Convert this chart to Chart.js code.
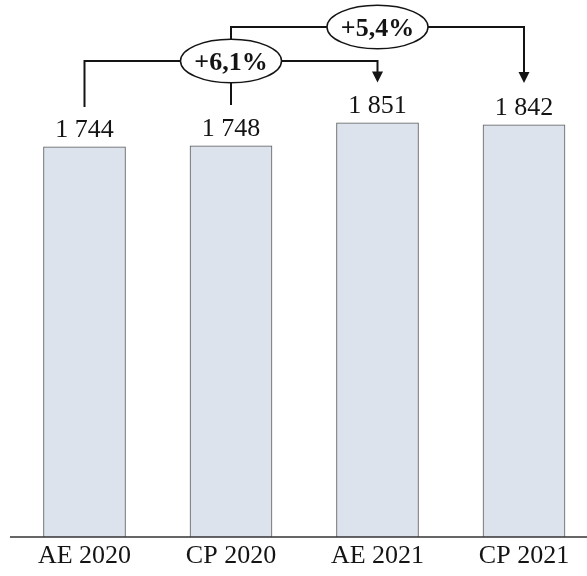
<!DOCTYPE html>
<html>
<head>
<meta charset="utf-8">
<script src="https://cdn.jsdelivr.net/npm/chart.js@4/dist/chart.umd.min.js"></script>
<style>
  html, body { margin: 0; padding: 0; background: #ffffff; }
  #wrap { width: 587px; height: 576px; }
</style>
</head>
<body>
<div id="wrap"><canvas id="c" width="587" height="576"></canvas></div>
<script>
// Categories and values
const categories = ['AE 2020', 'CP 2020', 'AE 2021', 'CP 2021'];
const values = [1744, 1748, 1851, 1842];
// Growth brackets: [from index, to index], lower bracket first
const comparisons = [[0, 2], [1, 3]];
const yMax = 2400;

const SERIF = '"Liberation Serif", "DejaVu Serif", serif';
const INK = '#141414';

function fmtThousands(v) {
  return String(v).replace(/\B(?=(\d{3})+(?!\d))/g, ' ');
}
function fmtGrowth(a, b) {
  const pct = (b / a - 1) * 100;
  return (pct >= 0 ? '+' : '') + pct.toFixed(1).replace('.', ',') + '%';
}

// Draws the baseline, value labels and the growth brackets
const overlay = {
  id: 'overlay',
  afterDatasetsDraw(chart) {
    const ctx = chart.ctx;
    const meta = chart.getDatasetMeta(0);
    const yBase = chart.scales.y.getPixelForValue(0);
    ctx.save();

    // baseline
    ctx.strokeStyle = '#333333';
    ctx.lineWidth = 1.6;
    ctx.beginPath();
    ctx.moveTo(10, yBase);
    ctx.lineTo(chart.width, yBase);
    ctx.stroke();

    // value labels
    ctx.fillStyle = INK;
    ctx.font = '26px ' + SERIF;
    ctx.textAlign = 'center';
    ctx.textBaseline = 'alphabetic';
    meta.data.forEach((bar, i) => {
      ctx.fillText(fmtThousands(values[i]), bar.x, bar.y - 9.5);
    });

    // brackets: level of horizontal run, start of left stem, arrow tip
    const levels = [61, 27];
    const stemStart = [107, 105];
    const arrowTip = [82.5, 83];
    const ellipses = [];
    comparisons.forEach(([a, b], k) => {
      const x0 = meta.data[a].x;
      const x1 = meta.data[b].x;
      const yl = levels[k];
      ctx.strokeStyle = INK;
      ctx.lineWidth = 2;
      ctx.beginPath();
      ctx.moveTo(x0, stemStart[k]);
      ctx.lineTo(x0, yl);
      ctx.lineTo(x1, yl);
      ctx.lineTo(x1, arrowTip[k] - 10);
      ctx.stroke();
      ctx.fillStyle = INK;
      ctx.beginPath();
      ctx.moveTo(x1 - 5.5, arrowTip[k] - 11);
      ctx.lineTo(x1 + 5.5, arrowTip[k] - 11);
      ctx.lineTo(x1, arrowTip[k]);
      ctx.closePath();
      ctx.fill();
      ellipses.push({ x: (x0 + x1) / 2, y: yl, text: fmtGrowth(values[a], values[b]) });
    });

    ellipses.forEach(e => {
      ctx.beginPath();
      ctx.ellipse(e.x, e.y, 50.5, 21.8, 0, 0, Math.PI * 2);
      ctx.fillStyle = '#ffffff';
      ctx.fill();
      ctx.lineWidth = 1.5;
      ctx.strokeStyle = INK;
      ctx.stroke();
      ctx.fillStyle = INK;
      ctx.font = 'bold 26px ' + SERIF;
      ctx.textAlign = 'center';
      ctx.textBaseline = 'alphabetic';
      ctx.fillText(e.text, e.x, e.y + 9);
    });

    ctx.restore();
  }
};

new Chart(document.getElementById('c'), {
  type: 'bar',
  data: {
    labels: categories,
    datasets: [{
      data: values,
      backgroundColor: '#dce3ed',
      borderColor: '#5a5a5a',
      borderWidth: 1,
      borderSkipped: 'bottom',
      barThickness: 82,
      clip: false
    }]
  },
  options: {
    responsive: false,
    devicePixelRatio: 1,
    animation: false,
    layout: { padding: { left: 84.5, right: 63, top: 0, bottom: 0 } },
    plugins: { legend: { display: false }, tooltip: { enabled: false } },
    scales: {
      x: {
        offset: false,
        grid: { display: false, drawTicks: false },
        border: { display: false },
        ticks: {
          color: INK,
          font: { family: SERIF, size: 26 },
          padding: 4,
          maxRotation: 0,
          autoSkip: false
        },
        afterFit(scale) { scale.height = 39; }
      },
      y: {
        display: false,
        min: 0,
        max: yMax
      }
    }
  },
  plugins: [overlay]
});
</script>
</body>
</html>
